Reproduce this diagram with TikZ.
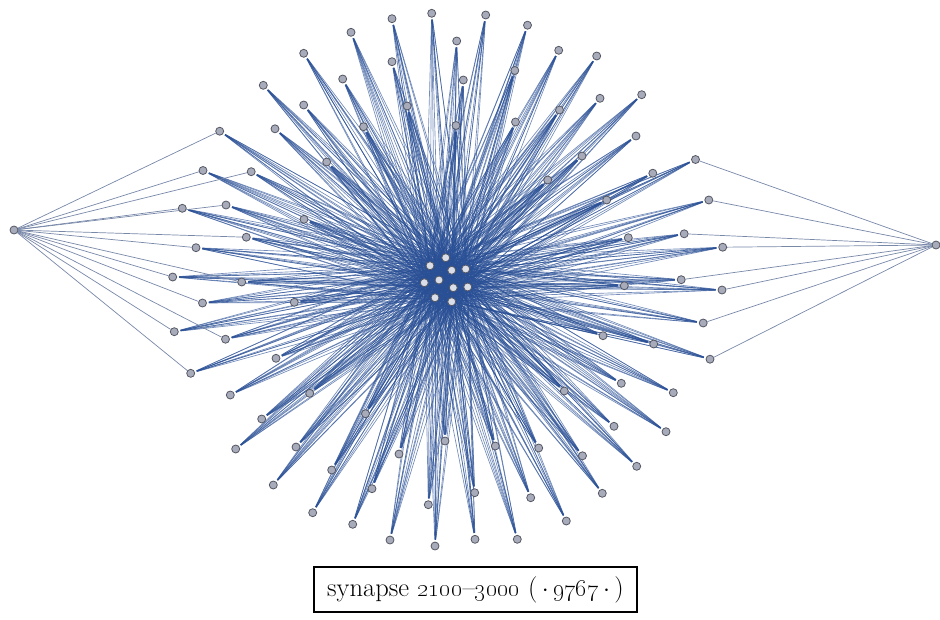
\documentclass[tikz,border=0pt]{standalone}
\usetikzlibrary{backgrounds}
\definecolor{edgeblue}{RGB}{40,78,148}
\definecolor{faredge}{RGB}{120,136,168}
\definecolor{nodefill}{RGB}{168,171,186}
\definecolor{nodedraw}{RGB}{85,88,100}
\definecolor{hubfill}{RGB}{218,222,232}
\tikzset{
  outer/.style={circle,draw=nodedraw,fill=nodefill,line width=0.8pt,inner sep=0pt,minimum size=8pt},
  hub/.style={circle,draw=nodedraw,fill=hubfill,line width=0.8pt,inner sep=0pt,minimum size=8pt},
  spoke/.style={draw=edgeblue,line width=0.65pt,opacity=0.65,shorten >=2pt},
  farlink/.style={draw=faredge,line width=0.7pt},
  caption/.style={draw=black,line width=1.6pt,minimum width=323pt,minimum height=45pt,inner sep=0pt}
}
\begin{document}
\begin{tikzpicture}[x=1pt,y=-1pt]
\useasboundingbox (0,0) rectangle (940,619);
% hub nodes
\foreach \i/\x/\y in {1/445.7/257.7,2/430/265.7,3/451.7/270.3,4/465.7/269,5/424.3/282.7,6/439/280,7/453.3/287.7,8/467.7/287,9/435/297.7,10/451.7/301.7}
  \node[hub] (c\i) at (\x,\y) {};
% outer nodes
\foreach \i/\x/\y in {
1/392/18.7,2/431.7/13.3,3/485.7/15,4/527.5/25.2,5/351/32.3,6/303.7/53.3,7/456.7/41,8/392/61.7,
9/263.3/85.3,10/342.7/79,11/463.3/80,12/514.8/70.5,13/303.7/105,14/407.2/106,15/275/128.8,16/363.5/126.7,
17/456/125.5,18/515.5/122,19/558.7/50.3,20/596.7/56,21/559.5/110,22/600/98.3,23/641.7/94.7,24/636/136,
25/582/156,26/695.5/159.5,27/652.8/173.2,28/606.7/200,29/708.8/200,30/628.3/237.7,31/684.2/233.8,32/722.7/247.2,
33/681.2/279.7,34/624.3/285.7,35/722/290,36/603/335.7,37/653.7/344,38/703.2/323,39/710/359.2,40/621.3/383.3,
41/673.3/392.7,42/564.3/391,43/614/426.3,44/666/431.7,45/582.5/455.8,46/636.7/466.3,47/602.3/493.3,48/566.3/521,
49/530.7/497.7,50/538.7/448,51/495.3/446,52/517.3/539.3,53/475/539.3,54/474.7/492.7,55/445/441,56/435/546,
57/428.3/504.7,58/399/454,59/390/540,60/372/488.7,61/352.7/524.3,62/365.5/413.7,63/331.7/470,64/312.7/512.7,
65/296/447,66/273.3/485,67/261.7/419,68/235.7/449,69/309.7/393.3,70/230.3/395,71/276/358.3,72/190.7/373.3,
73/225.5/339.2,74/174.3/331.7,75/294.3/302.3,76/202.5/303,77/241.7/282,78/172.7/277,79/196/247.7,80/246.3/237.2,
81/304/219.3,82/182.3/208.3,83/226/205,84/203/170.5,85/251.2/171.7,86/326.7/162,87/219.7/131.2,88/547.7/180}
  \node[outer] (o\i) at (\x,\y) {};
% far nodes
\node[outer] (L) at (14,230) {};
\node[outer] (R) at (936,245) {};
\begin{scope}[on background layer]
  \foreach \o in {1,...,88}
    \foreach \c in {1,...,10}
      \draw[spoke] (c\c) -- (o\o);
  \foreach \o in {72,73,74,76,77,78,79,80,82,83,84,85,87}
    \draw[farlink] (L) -- (o\o);
  \foreach \o in {26,29,31,32,33,35,38,39}
    \draw[farlink] (R) -- (o\o);
\end{scope}
% caption
\node[caption] (cap) at (475.5,589.5) {\fontsize{26.5}{30}\selectfont synapse \oldstylenums{2100}--\oldstylenums{3000} (\,$\cdot$\,\oldstylenums{9767}\,$\cdot$\,)};
\end{tikzpicture}
\end{document}
